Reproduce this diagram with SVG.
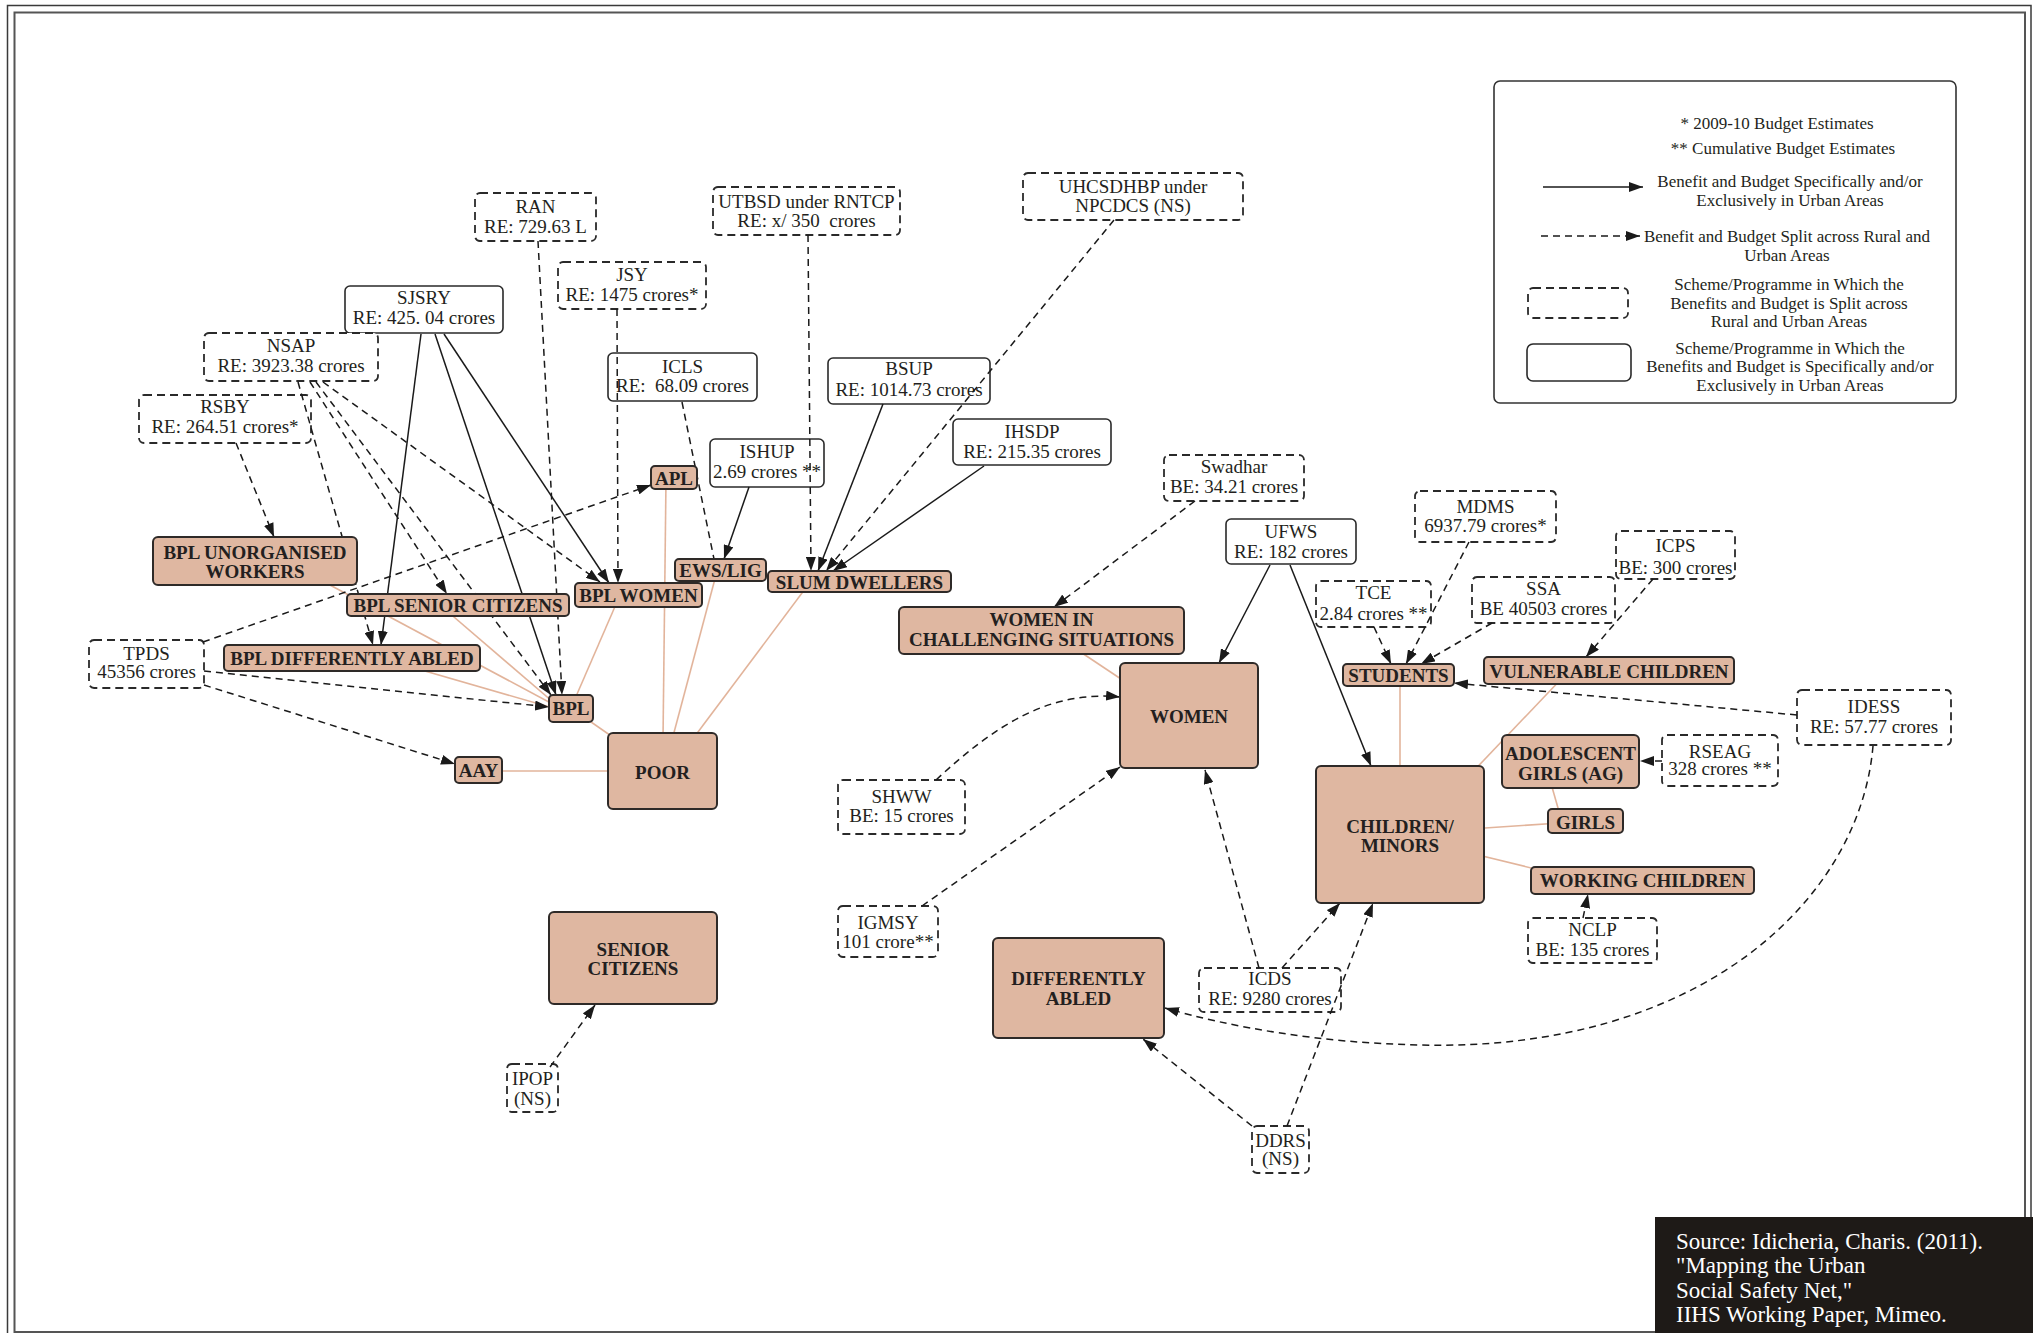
<svg xmlns="http://www.w3.org/2000/svg" width="2037" height="1333" viewBox="0 0 2037 1333">
<style>
.t{font-family:"Liberation Serif","Times New Roman",serif;font-size:19px;fill:#231f20;text-anchor:middle}
.b{font-weight:bold}
.lg{font-size:17px}
.src{font-family:"Liberation Serif","Times New Roman",serif;font-size:23px;fill:#ffffff}
.sd{fill:#fff;stroke:#2a2a2a;stroke-width:1.8;stroke-dasharray:8 5}
.ss{fill:#fff;stroke:#2a2a2a;stroke-width:1.6}
.bn{fill:#dfb7a1;stroke:#2e2a28;stroke-width:2}
.e{fill:none;stroke:#1a1a1a;stroke-width:1.5;marker-end:url(#ah)}
.d{fill:none;stroke:#1a1a1a;stroke-width:1.5;stroke-dasharray:7 5;marker-end:url(#ah)}
.dn{fill:none;stroke:#1a1a1a;stroke-width:1.5;stroke-dasharray:7 5}
.p{fill:none;stroke:#e2b49b;stroke-width:1.6}
</style>
<defs>
<marker id="ah" viewBox="0 0 14 10" refX="14" refY="5" markerWidth="14" markerHeight="10" markerUnits="userSpaceOnUse" orient="auto">
<path d="M0,0 L14,5 L0,10 z" fill="#1a1a1a"/>
</marker>
</defs>
<rect x="0" y="0" width="2037" height="1333" fill="#fff"/>
<rect x="7.5" y="5.5" width="2023.5" height="1345" fill="none" stroke="#3a3a3a" stroke-width="1.5"/>
<rect x="14.5" y="12.5" width="2010.5" height="1319.5" fill="none" stroke="#555" stroke-width="2"/>

<!-- legend -->
<g id="legend">
<rect x="1494" y="81" width="462" height="322" rx="6" fill="#fff" stroke="#333" stroke-width="1.6"/>
<text class="t lg" x="1777" y="129">* 2009-10 Budget Estimates</text>
<text class="t lg" x="1783" y="154">** Cumulative Budget Estimates</text>
<line x1="1543" y1="187" x2="1643" y2="187" class="e"/>
<text class="t lg" x="1790" y="187">Benefit and Budget Specifically and/or</text>
<text class="t lg" x="1790" y="206">Exclusively in Urban Areas</text>
<line x1="1541" y1="236" x2="1640" y2="236" class="d"/>
<text class="t lg" x="1787" y="242">Benefit and Budget Split across Rural and</text>
<text class="t lg" x="1787" y="261">Urban Areas</text>
<rect class="sd" x="1528" y="288" width="100" height="30" rx="5"/>
<text class="t lg" x="1789" y="290">Scheme/Programme in Which the</text>
<text class="t lg" x="1789" y="309">Benefits and Budget is Split across</text>
<text class="t lg" x="1789" y="327">Rural and Urban Areas</text>
<rect class="ss" x="1527" y="344" width="104" height="37" rx="6"/>
<text class="t lg" x="1790" y="354">Scheme/Programme in Which the</text>
<text class="t lg" x="1790" y="372">Benefits and Budget is Specifically and/or</text>
<text class="t lg" x="1790" y="391">Exclusively in Urban Areas</text>
</g>

<!-- scheme nodes -->
<g id="n-ran"><rect class="sd" x="475" y="193" width="121" height="48" rx="5"/><text class="t" x="535.5" y="213">RAN</text><text class="t" x="535.5" y="233">RE: 729.63 L</text></g>
<g id="n-utbsd"><rect class="sd" x="713" y="187" width="187" height="48" rx="5"/><text class="t" x="806.5" y="208">UTBSD under RNTCP</text><text class="t" x="806.5" y="227" xml:space="preserve">RE: x/ 350  crores</text></g>
<g id="n-uhcsdhbp"><rect class="sd" x="1023" y="173" width="220" height="47" rx="5"/><text class="t" x="1133" y="193">UHCSDHBP under</text><text class="t" x="1133" y="212">NPCDCS (NS)</text></g>
<g id="n-jsy"><rect class="sd" x="558" y="262" width="148" height="47" rx="5"/><text class="t" x="632" y="281">JSY</text><text class="t" x="632" y="301">RE: 1475 crores*</text></g>
<g id="n-sjsry"><rect class="ss" x="345" y="286" width="158" height="47" rx="5"/><text class="t" x="424" y="304">SJSRY</text><text class="t" x="424" y="324">RE: 425. 04 crores</text></g>
<g id="n-nsap"><rect class="sd" x="204" y="333" width="174" height="48" rx="5"/><text class="t" x="291" y="352">NSAP</text><text class="t" x="291" y="372">RE: 3923.38 crores</text></g>
<g id="n-rsby"><rect class="sd" x="139" y="395" width="172" height="48" rx="5"/><text class="t" x="225" y="413">RSBY</text><text class="t" x="225" y="433">RE: 264.51 crores*</text></g>
<g id="n-icls"><rect class="ss" x="608" y="353" width="149" height="48" rx="5"/><text class="t" x="682.5" y="373">ICLS</text><text class="t" x="682.5" y="392" xml:space="preserve">RE:  68.09 crores</text></g>
<g id="n-bsup"><rect class="ss" x="828" y="358" width="162" height="46" rx="5"/><text class="t" x="909" y="375">BSUP</text><text class="t" x="909" y="396">RE: 1014.73 crores</text></g>
<g id="n-ishup"><rect class="ss" x="710" y="439" width="114" height="48" rx="5"/><text class="t" x="767" y="458">ISHUP</text><text class="t" x="767" y="478">2.69 crores **</text></g>
<g id="n-ihsdp"><rect class="ss" x="953" y="419" width="158" height="46" rx="5"/><text class="t" x="1032" y="438">IHSDP</text><text class="t" x="1032" y="458">RE: 215.35 crores</text></g>
<g id="n-swadhar"><rect class="sd" x="1164" y="455" width="140" height="46" rx="5"/><text class="t" x="1234" y="473">Swadhar</text><text class="t" x="1234" y="493">BE: 34.21 crores</text></g>
<g id="n-ufws"><rect class="ss" x="1226" y="519" width="130" height="45" rx="5"/><text class="t" x="1291" y="538">UFWS</text><text class="t" x="1291" y="558">RE: 182 crores</text></g>
<g id="n-mdms"><rect class="sd" x="1415" y="491" width="141" height="51" rx="5"/><text class="t" x="1485.5" y="513">MDMS</text><text class="t" x="1485.5" y="532">6937.79 crores*</text></g>
<g id="n-tce"><rect class="sd" x="1316" y="581" width="115" height="46" rx="5"/><text class="t" x="1373.5" y="599">TCE</text><text class="t" x="1373.5" y="620">2.84 crores **</text></g>
<g id="n-ssa"><rect class="sd" x="1472" y="577" width="143" height="46" rx="5"/><text class="t" x="1543.5" y="595">SSA</text><text class="t" x="1543.5" y="615">BE 40503 crores</text></g>
<g id="n-icps"><rect class="sd" x="1616" y="531" width="119" height="48" rx="5"/><text class="t" x="1675.5" y="552">ICPS</text><text class="t" x="1675.5" y="574">BE: 300 crores</text></g>
<g id="n-idess"><rect class="sd" x="1797" y="690" width="154" height="55" rx="5"/><text class="t" x="1874" y="713">IDESS</text><text class="t" x="1874" y="733">RE: 57.77 crores</text></g>
<g id="n-rseag"><rect class="sd" x="1662" y="735" width="116" height="51" rx="5"/><text class="t" x="1720" y="758">RSEAG</text><text class="t" x="1720" y="775">328 crores **</text></g>
<g id="n-nclp"><rect class="sd" x="1528" y="918" width="129" height="45" rx="5"/><text class="t" x="1592.5" y="936">NCLP</text><text class="t" x="1592.5" y="956">BE: 135 crores</text></g>
<g id="n-tpds"><rect class="sd" x="89" y="640" width="115" height="48" rx="5"/><text class="t" x="146.5" y="660">TPDS</text><text class="t" x="146.5" y="678">45356 crores</text></g>
<g id="n-shww"><rect class="sd" x="838" y="780" width="127" height="54" rx="5"/><text class="t" x="901.5" y="803">SHWW</text><text class="t" x="901.5" y="822">BE: 15 crores</text></g>
<g id="n-igmsy"><rect class="sd" x="838" y="906" width="100" height="51" rx="5"/><text class="t" x="888" y="929">IGMSY</text><text class="t" x="888" y="948">101 crore**</text></g>
<g id="n-icds"><rect class="sd" x="1199" y="968" width="142" height="44" rx="5"/><text class="t" x="1270" y="985">ICDS</text><text class="t" x="1270" y="1005">RE: 9280 crores</text></g>
<g id="n-ipop"><rect class="sd" x="507" y="1064" width="51" height="48" rx="5"/><text class="t" x="532.5" y="1085">IPOP</text><text class="t" x="532.5" y="1105">(NS)</text></g>
<g id="n-ddrs"><rect class="sd" x="1252" y="1126" width="57" height="47" rx="5"/><text class="t" x="1280.5" y="1147">DDRS</text><text class="t" x="1280.5" y="1165">(NS)</text></g>

<!-- connectors -->
<g id="connectors">
<line class="p" x1="300" y1="569" x2="560" y2="708"/>
<line class="p" x1="440" y1="605" x2="560" y2="708"/>
<line class="p" x1="380" y1="658" x2="560" y2="710"/>
<line class="p" x1="620" y1="595" x2="571" y2="708"/>
<line class="p" x1="571" y1="708" x2="660" y2="770"/>
<line class="p" x1="478" y1="771" x2="660" y2="771"/>
<line class="p" x1="666" y1="480" x2="663" y2="740"/>
<line class="p" x1="716" y1="575" x2="672" y2="740"/>
<line class="p" x1="808" y1="585" x2="692" y2="740"/>
<line class="p" x1="1070" y1="645" x2="1130" y2="685"/>
<line class="p" x1="1400" y1="676" x2="1400" y2="780"/>
<line class="p" x1="1565" y1="675" x2="1465" y2="780"/>
<line class="p" x1="1550" y1="780" x2="1560" y2="815"/>
<line class="p" x1="1560" y1="823" x2="1470" y2="829"/>
<line class="p" x1="1560" y1="875" x2="1470" y2="853"/>

<line class="e" x1="421" y1="334" x2="381" y2="645"/>
<line class="e" x1="435" y1="334" x2="556" y2="695"/>
<line class="e" x1="444" y1="334" x2="609" y2="583"/>
<line class="e" x1="749" y1="487" x2="724" y2="559"/>
<line class="e" x1="883" y1="404" x2="818" y2="571"/>
<line class="e" x1="984" y1="466" x2="833" y2="571"/>
<line class="e" x1="1270" y1="565" x2="1219" y2="663"/>
<line class="e" x1="1290" y1="565" x2="1371" y2="766"/>

<line class="d" x1="538" y1="241" x2="562" y2="695"/>
<line class="d" x1="808" y1="235" x2="811" y2="571"/>
<line class="d" x1="1114" y1="220" x2="826" y2="571"/>
<line class="d" x1="617" y1="309" x2="618" y2="583"/>
<line class="dn" x1="682" y1="402" x2="714" y2="559"/>
<line class="d" x1="298" y1="382" x2="373" y2="645"/>
<line class="d" x1="310" y1="382" x2="447" y2="594"/>
<line class="d" x1="316" y1="382" x2="551" y2="695"/>
<line class="d" x1="323" y1="382" x2="600" y2="582"/>
<line class="d" x1="236" y1="443" x2="274" y2="537"/>
<line class="d" x1="203" y1="642" x2="651" y2="485"/>
<line class="d" x1="204" y1="671" x2="549" y2="707"/>
<line class="d" x1="204" y1="685" x2="455" y2="764"/>
<line class="d" x1="1195" y1="501" x2="1054" y2="607"/>
<line class="d" x1="1469" y1="542" x2="1406" y2="664"/>
<line class="d" x1="1374" y1="627" x2="1391" y2="664"/>
<line class="d" x1="1492" y1="623" x2="1421" y2="664"/>
<line class="d" x1="1653" y1="579" x2="1586" y2="657"/>
<line class="d" x1="1797" y1="715" x2="1454" y2="683"/>
<line class="d" x1="1662" y1="761" x2="1640" y2="761"/>
<line class="d" x1="1583" y1="918" x2="1588" y2="894"/>
<path class="d" d="M1873,746 C1860,900 1700,1052 1420,1045 C1320,1043 1230,1027 1165,1008"/>
<path class="d" d="M936,780 C995,725 1050,690 1120,697"/>
<line class="d" x1="922" y1="906" x2="1120" y2="767"/>
<line class="d" x1="1259" y1="968" x2="1205" y2="770"/>
<line class="d" x1="1282" y1="968" x2="1340" y2="903"/>
<line class="d" x1="1252" y1="1126" x2="1143" y2="1039"/>
<line class="d" x1="1287" y1="1126" x2="1373" y2="903"/>
<line class="d" x1="550" y1="1067" x2="595" y2="1005"/>
</g>

<!-- beneficiary nodes -->
<g id="n-bpl-unorg"><rect class="bn" x="153" y="537" width="204" height="48" rx="5"/><text class="t b" x="255" y="559">BPL UNORGANISED</text><text class="t b" x="255" y="578">WORKERS</text></g>
<g id="n-bpl-sc"><rect class="bn" x="347" y="594" width="222" height="22" rx="4"/><text class="t b" x="458" y="612">BPL SENIOR CITIZENS</text></g>
<g id="n-bpl-women"><rect class="bn" x="575" y="583" width="127" height="24" rx="4"/><text class="t b" x="638.5" y="602">BPL WOMEN</text></g>
<g id="n-apl"><rect class="bn" x="651" y="466" width="46" height="23" rx="4"/><text class="t b" x="674" y="485">APL</text></g>
<g id="n-ews"><rect class="bn" x="675" y="559" width="91" height="22" rx="4"/><text class="t b" x="720.5" y="577">EWS/LIG</text></g>
<g id="n-slum"><rect class="bn" x="768" y="571" width="183" height="21" rx="4"/><text class="t b" x="859.5" y="589">SLUM DWELLERS</text></g>
<g id="n-bpl-da"><rect class="bn" x="224" y="645" width="256" height="26" rx="4"/><text class="t b" x="352" y="665">BPL DIFFERENTLY ABLED</text></g>
<g id="n-bpl"><rect class="bn" x="549" y="695" width="44" height="27" rx="4"/><text class="t b" x="571" y="715">BPL</text></g>
<g id="n-aay"><rect class="bn" x="455" y="757" width="47" height="26" rx="4"/><text class="t b" x="478.5" y="777">AAY</text></g>
<g id="n-poor"><rect class="bn" x="608" y="733" width="109" height="76" rx="5"/><text class="t b" x="662.5" y="779">POOR</text></g>
<g id="n-wics"><rect class="bn" x="899" y="607" width="285" height="47" rx="5"/><text class="t b" x="1041.5" y="626">WOMEN IN</text><text class="t b" x="1041.5" y="646">CHALLENGING SITUATIONS</text></g>
<g id="n-women"><rect class="bn" x="1120" y="663" width="138" height="105" rx="5"/><text class="t b" x="1189" y="723">WOMEN</text></g>
<g id="n-students"><rect class="bn" x="1343" y="664" width="111" height="22" rx="4"/><text class="t b" x="1398.5" y="682">STUDENTS</text></g>
<g id="n-vuln"><rect class="bn" x="1484" y="657" width="250" height="27" rx="4"/><text class="t b" x="1609" y="678">VULNERABLE CHILDREN</text></g>
<g id="n-adol"><rect class="bn" x="1502" y="735" width="137" height="53" rx="5"/><text class="t b" x="1570.5" y="760">ADOLESCENT</text><text class="t b" x="1570.5" y="780">GIRLS (AG)</text></g>
<g id="n-girls"><rect class="bn" x="1548" y="809" width="75" height="24" rx="4"/><text class="t b" x="1585.5" y="829">GIRLS</text></g>
<g id="n-children"><rect class="bn" x="1316" y="766" width="168" height="137" rx="5"/><text class="t b" x="1400" y="833">CHILDREN/</text><text class="t b" x="1400" y="852">MINORS</text></g>
<g id="n-working"><rect class="bn" x="1531" y="867" width="223" height="27" rx="4"/><text class="t b" x="1642.5" y="887">WORKING CHILDREN</text></g>
<g id="n-senior"><rect class="bn" x="549" y="912" width="168" height="92" rx="5"/><text class="t b" x="633" y="956">SENIOR</text><text class="t b" x="633" y="975">CITIZENS</text></g>
<g id="n-diffabled"><rect class="bn" x="993" y="938" width="171" height="100" rx="5"/><text class="t b" x="1078.5" y="985">DIFFERENTLY</text><text class="t b" x="1078.5" y="1005">ABLED</text></g>

<!-- source -->
<g id="source">
<rect x="1655" y="1217" width="378" height="120" fill="#1e1a17"/>
<text class="src" x="1676" y="1249">Source: Idicheria, Charis. (2011).</text>
<text class="src" x="1676" y="1273">"Mapping the Urban</text>
<text class="src" x="1676" y="1298">Social Safety Net,"</text>
<text class="src" x="1676" y="1322">IIHS Working Paper, Mimeo.</text>
</g>
</svg>
